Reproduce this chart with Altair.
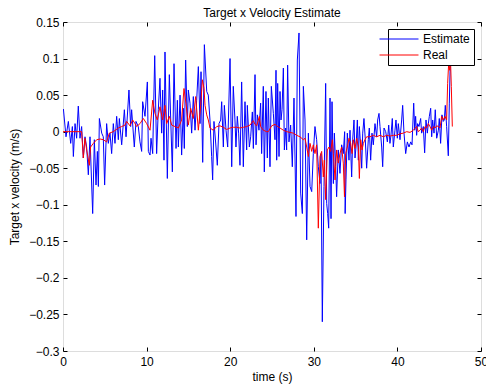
import altair as alt
import pandas as pd

# Estimate (blue) series
est_t = [0.05, 0.36, 0.64, 0.92, 1.12, 1.24, 1.44, 1.63, 1.83, 2.03, 2.23, 2.43, 2.63, 2.83, 3.03, 3.23, 3.55, 3.75, 3.95, 4.11,
         4.23, 4.35, 4.63, 4.82, 4.98, 5.22, 5.42, 5.62, 5.82, 6.02, 6.22, 6.42, 6.62, 6.74, 7.02, 7.34, 7.54, 7.89, 8.09, 8.21,
         8.53, 8.73, 9.01, 9.21, 9.41, 9.53, 9.81, 10.09, 10.21, 10.41, 10.53, 10.73, 10.97, 11.20, 11.40, 11.60, 11.80, 11.92, 12.08, 12.20,
         12.48, 12.72, 13.08, 13.28, 13.52, 13.68, 13.80, 14.00, 14.19, 14.39, 14.51, 14.67, 14.87, 14.99, 15.19, 15.39, 15.59, 15.79, 15.99, 16.19,
         16.39, 16.51, 16.71, 16.91, 17.19, 17.38, 17.58, 17.78, 17.90, 18.06, 18.30, 18.46, 18.66, 18.86, 18.98, 19.18, 19.30, 19.50, 19.70, 19.98,
         20.18, 20.37, 20.57, 20.69, 20.85, 21.01, 21.17, 21.37, 21.57, 21.77, 21.97, 22.05, 22.29, 22.45, 22.65, 22.77, 22.97, 23.09, 23.25, 23.44,
         23.64, 23.76, 23.96, 24.08, 24.28, 24.44, 24.56, 24.76, 24.92, 25.16, 25.36, 25.48, 25.56, 25.68, 25.84, 25.96, 26.08, 26.20, 26.36, 26.48,
         26.63, 26.75, 26.87, 27.03, 27.23, 27.43, 27.63, 27.87, 28.03, 28.23, 28.43, 28.63, 28.75, 28.95, 29.15, 29.35, 29.55, 29.75, 29.94, 30.14,
         30.34, 30.54, 30.74, 30.86, 31.02, 31.22, 31.42, 31.54, 31.66, 31.78, 31.94, 32.06, 32.18, 32.34, 32.46, 32.62, 32.73, 32.93, 33.13, 33.33,
         33.53, 33.69, 33.75, 33.85, 34.01, 34.21, 34.33, 34.53, 34.65, 34.81, 34.93, 35.05, 35.21, 35.33, 35.45, 35.61, 35.73, 35.85, 36.00, 36.16,
         36.32, 36.52, 36.64, 36.80, 36.96, 37.12, 37.32, 37.52, 37.64, 37.80, 37.92, 38.12, 38.24, 38.40, 38.60, 38.80, 38.96, 39.11, 39.23, 39.39,
         39.51, 39.71, 39.83, 39.99, 40.11, 40.31, 40.51, 40.63, 40.79, 40.99, 41.19, 41.39, 41.59, 41.75, 41.95, 42.07, 42.18, 42.30, 42.42, 42.58,
         42.78, 42.90, 43.10, 43.26, 43.42, 43.58, 43.70, 43.82, 43.98, 44.10, 44.22, 44.38, 44.53, 44.70, 44.90, 45.01, 45.17, 45.33, 45.49, 45.61,
         45.73, 45.89, 46.09, 46.21, 46.33, 46.41]
est_v = [0.031, -0.007, 0.014, -0.016, 0.007, -0.034, 0.011, -0.009, 0.035, -0.009, 0.007, -0.036, -0.007, -0.021, -0.059, -0.007, -0.112, -0.011, -0.073, -0.027,
         -0.075, 0.018, -0.002, -0.007, -0.073, 0.011, -0.016, -0.002, -0.030, 0.011, -0.016, 0.021, -0.011, 0.018, -0.018, 0.030, -0.007, 0.057, 0.007, 0.030,
         -0.021, 0.014, 0.007, -0.014, -0.027, 0.041, 0.021, 0.068, -0.027, -0.032, -0.009, -0.030, 0.104, -0.030, 0.030, 0.073, -0.002, 0.057, -0.039, 0.109,
         -0.064, 0.078, -0.055, 0.093, -0.023, 0.043, -0.021, 0.050, -0.032, 0.032, -0.023, 0.098, 0.007, 0.057, 0.039, -0.002, 0.048, 0.002, 0.043, 0.089,
         0.011, 0.082, -0.042, 0.119, 0.055, 0.050, 0.016, -0.034, -0.066, 0.014, -0.021, -0.046, 0.011, 0.016, 0.041, -0.021, 0.036, 0.002, -0.021, 0.100,
         -0.048, 0.062, 0.016, -0.021, 0.021, -0.002, -0.046, 0.068, -0.048, 0.041, -0.025, 0.036, -0.021, -0.007, 0.027, -0.023, 0.078, -0.018, 0.023, 0.002,
         0.039, -0.030, 0.062, -0.055, 0.055, -0.036, 0.046, -0.048, 0.062, 0.025, -0.011, 0.084, -0.039, 0.066, -0.034, 0.055, 0.016, 0.030, 0.087, -0.025,
         0.005, -0.025, 0.091, -0.014, 0.009, -0.048, 0.046, -0.116, 0.098, 0.135, -0.084, -0.112, 0.062, 0.016, -0.148, -0.002, -0.075, -0.082, -0.030, 0.007,
         -0.011, -0.048, -0.071, -0.030, -0.260, -0.075, 0.066, -0.098, -0.112, -0.132, 0.046, -0.119, 0.041, -0.071, -0.002, -0.048, -0.089, -0.025, -0.057, -0.018,
         -0.030, 0.000, -0.112, -0.066, -0.002, -0.039, 0.002, -0.062, -0.011, 0.016, -0.036, -0.021, 0.016, -0.039, 0.007, -0.021, -0.050, -0.002, 0.018, -0.011,
         -0.050, -0.011, 0.005, -0.039, -0.002, -0.018, 0.011, -0.007, 0.016, 0.025, 0.007, -0.021, -0.048, 0.005, 0.000, -0.014, 0.009, -0.016, -0.005, 0.018,
         -0.021, 0.002, 0.016, -0.009, 0.011, -0.011, 0.016, 0.036, -0.002, -0.030, -0.014, -0.021, -0.014, -0.018, 0.039, 0.002, 0.021, -0.005, 0.011, 0.007,
         0.018, -0.002, 0.007, -0.029, 0.016, -0.002, 0.011, 0.021, 0.032, -0.007, 0.016, -0.002, 0.030, -0.009, 0.002, 0.018, -0.016, 0.023, 0.014, 0.016,
         0.036, 0.007, -0.033, 0.039, 0.098, 0.125]

# Real (red) series
real_t = [0.0, 2.23, 2.43, 2.63, 2.83, 3.15, 3.30, 3.63, 4.03, 4.43, 4.82, 5.22, 5.54, 6.02, 6.62, 7.02, 7.42, 7.62, 8.01, 8.33,
          8.61, 8.81, 9.21, 9.61, 10.01, 10.41, 10.73, 11.00, 11.28, 11.60, 11.92, 12.20, 12.40, 12.72, 13.00, 13.40, 13.80, 14.19, 14.47, 14.71,
          14.99, 15.27, 15.59, 15.87, 16.19, 16.47, 16.67, 16.87, 16.99, 17.19, 17.38, 17.58, 17.98, 18.38, 18.78, 19.18, 19.58, 19.98, 20.37, 20.77,
          21.17, 21.57, 21.97, 22.37, 22.77, 22.97, 23.17, 23.49, 23.64, 23.96, 24.36, 24.56, 24.96, 25.36, 25.56, 25.96, 26.36, 26.75, 27.15, 27.55,
          27.95, 28.35, 28.75, 28.95, 29.15, 29.35, 29.55, 29.75, 29.94, 30.14, 30.34, 30.54, 30.74, 30.94, 31.14, 31.26, 31.42, 31.62, 31.82, 32.02,
          32.22, 32.34, 32.54, 32.73, 32.93, 33.13, 33.33, 33.53, 33.67, 33.81, 34.01, 34.21, 34.41, 34.57, 34.73, 34.93, 35.13, 35.33, 35.45, 35.61,
          35.77, 35.93, 36.12, 36.32, 36.72, 37.12, 37.52, 37.92, 38.32, 38.72, 39.11, 39.51, 39.91, 40.31, 40.71, 41.11, 41.51, 41.91, 42.30, 42.50,
          42.70, 42.90, 43.10, 43.30, 43.50, 43.70, 43.90, 44.10, 44.30, 44.50, 44.70, 44.90, 45.10, 45.29, 45.49, 45.69, 45.89, 46.01, 46.13, 46.25,
          46.33, 46.45, 46.57]
real_v = [0.0, 0.0, -0.036, -0.009, -0.025, -0.046, -0.021, -0.016, -0.011, -0.010, -0.011, -0.014, -0.002, 0.000, 0.005, 0.007, 0.009, 0.014, 0.008, 0.016,
          0.011, 0.007, 0.011, 0.018, 0.011, 0.002, 0.043, 0.025, 0.016, 0.034, 0.016, 0.036, 0.011, 0.021, 0.009, 0.007, 0.005, 0.016, 0.059, 0.039,
          0.009, 0.032, 0.018, 0.048, 0.002, 0.036, 0.071, 0.059, 0.036, 0.023, 0.016, 0.005, 0.002, 0.007, 0.008, 0.006, 0.003, 0.005, 0.006, 0.006,
          0.005, 0.006, 0.007, 0.009, 0.015, 0.010, 0.008, 0.021, 0.007, 0.002, 0.000, 0.000, 0.008, 0.010, 0.008, 0.005, 0.002, 0.000, -0.001, -0.002,
          -0.005, -0.007, -0.011, -0.009, -0.021, -0.034, -0.016, -0.027, -0.018, -0.030, -0.018, -0.132, -0.034, -0.027, -0.062, -0.039, -0.093, -0.025, -0.021, -0.027,
          -0.011, -0.030, -0.066, -0.025, -0.043, -0.030, -0.021, -0.043, -0.089, -0.030, -0.021, -0.009, -0.016, -0.030, -0.011, -0.023, -0.009, -0.021, -0.064, -0.011,
          -0.025, -0.016, -0.011, -0.007, -0.007, -0.005, -0.007, -0.005, -0.007, -0.005, -0.006, -0.005, -0.005, -0.003, -0.002, 0.000, -0.001, 0.002, 0.007, 0.000,
          0.002, 0.005, 0.000, 0.007, 0.005, 0.011, 0.007, 0.002, 0.007, 0.005, 0.008, 0.007, 0.005, 0.021, 0.016, 0.021, 0.016, 0.066, 0.093, 0.084,
          0.107, 0.062, 0.007]

series_names = ["Estimate", "Real"]
series_colors = ["#0000ff", "#ff0000"]
x_ticks = [0, 10, 20, 30, 40, 50]
y_ticks = [-0.3, -0.25, -0.2, -0.15, -0.1, -0.05, 0, 0.05, 0.1, 0.15]

df = pd.concat([
    pd.DataFrame({"t": est_t, "v": est_v, "series": series_names[0]}),
    pd.DataFrame({"t": real_t, "v": real_v, "series": series_names[1]}),
], ignore_index=True)

FONT = "Liberation Sans"
xscale = alt.Scale(domain=[0, 50], nice=False, zero=False)
yscale = alt.Scale(domain=[-0.3, 0.15], nice=False, zero=False)

tick_style = dict(grid=True, gridDash=[4, 2000], gridColor="black", gridOpacity=1, gridWidth=1,
                  ticks=False, domain=False, labelFlush=False, minExtent=0)

main = alt.Chart(df).mark_line(strokeWidth=1, clip=True).encode(
    x=alt.X("t:Q", scale=xscale, axis=alt.Axis(orient="bottom", values=x_ticks, title="time (s)",
                                                 labelFontSize=12, titleFontSize=12, labelFont=FONT, titleFont=FONT,
                                                 labelColor="black", titleColor="black", titleFontWeight="normal",
                                                 labelPadding=5, titlePadding=4, **tick_style)),
    y=alt.Y("v:Q", scale=yscale, axis=alt.Axis(orient="left", values=y_ticks, format="~g",
                                                 title="Target x velocity (m/s)",
                                                 labelFontSize=12, titleFontSize=12, labelFont=FONT, titleFont=FONT,
                                                 labelColor="black", titleColor="black", titleFontWeight="normal",
                                                 labelPadding=4, titlePadding=7, **tick_style)),
    color=alt.Color("series:N", scale=alt.Scale(domain=series_names, range=series_colors),
                    legend=alt.Legend(title="\u00a0\u00a0", titleOrient="left", titlePadding=1, titleFontSize=12,
                                      orient="top-right", offset=7, strokeColor="black",
                                      fillColor="white", padding=4, rowPadding=4,
                                      symbolType="M-4,0H4", symbolSize=95, symbolStrokeWidth=1,
                                      labelOffset=18, labelFontSize=12, labelFont=FONT, labelColor="black")),
)

mirror = alt.Chart(df).mark_point(opacity=0).encode(
    x=alt.X("t:Q", scale=xscale, axis=alt.Axis(orient="top", values=x_ticks, labels=False, title=None,
                                                 maxExtent=0, **tick_style)),
    y=alt.Y("v:Q", scale=yscale, axis=alt.Axis(orient="right", values=y_ticks, labels=False, title=None,
                                                 maxExtent=0, **tick_style)),
)

chart = alt.layer(main, mirror).resolve_axis(x="independent", y="independent").properties(
    width=418, height=329,
    title=alt.TitleParams("Target x Velocity Estimate", fontSize=12, fontWeight="normal", font=FONT,
                          color="black", offset=5, frame="group", dy=9),
    autosize="none",
    padding={"left": 63, "top": 22, "right": 5, "bottom": 41},
).configure_view(stroke="black", strokeWidth=1).configure(background="white")

chart.save("out.html", embed_options={"renderer": "svg", "actions": False})
